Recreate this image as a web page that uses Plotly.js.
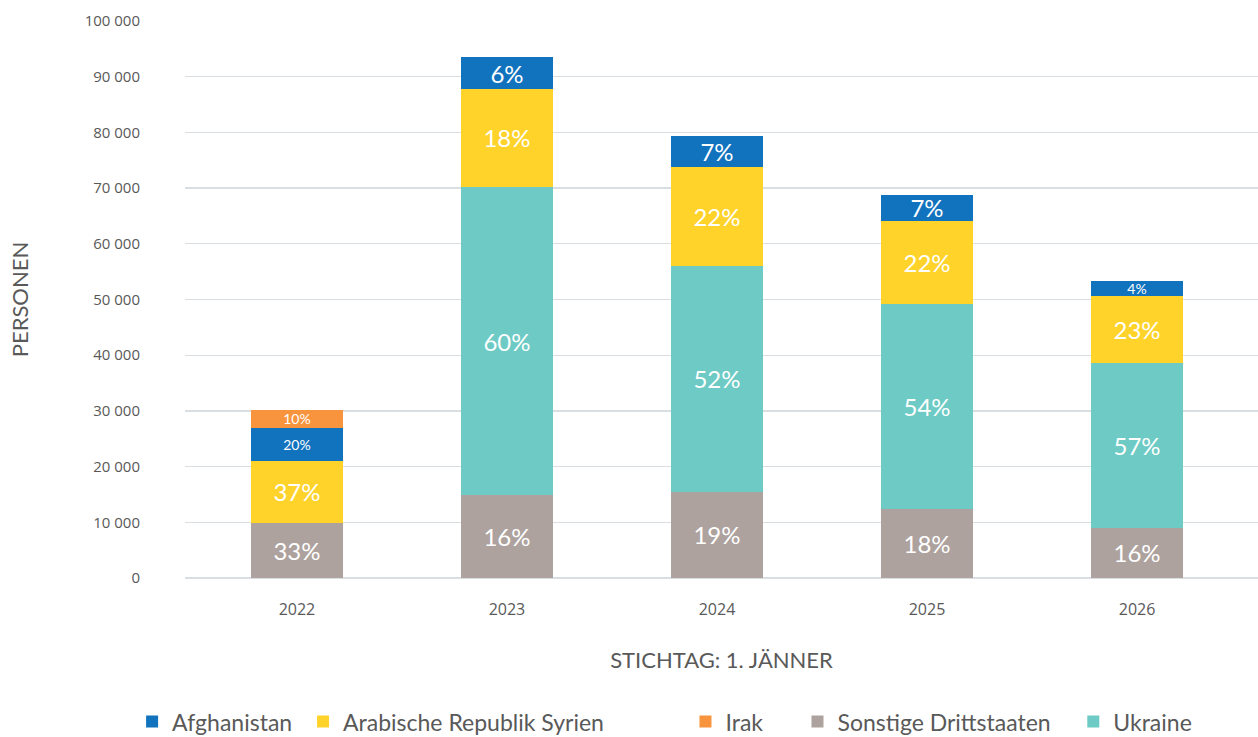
<!DOCTYPE html>
<html>
<head>
<meta charset="utf-8">
<script src="https://cdn.plot.ly/plotly-3.0.1.min.js"></script>
<style>html,body{margin:0;padding:0;background:#fff;}#chart{width:1258px;height:737px;}</style>
</head>
<body>
<div id="chart"></div>
<script>
var years = ['2022', '2023', '2024', '2025', '2026'];

var sonstige    = [9900, 14900, 15500, 12400, 9000];
var ukraine     = [null, 55300, 40500, 36800, 29600];
var syrien      = [11100, 17600, 17800, 14900, 12000];
var afghanistan = [6000, 5700, 5600, 4700, 2700];
var irak        = [3100, null, null, null, null];

var sonstigeLbl    = ['33%', '16%', '19%', '18%', '16%'];
var ukraineLbl     = ['', '60%', '52%', '54%', '57%'];
var syrienLbl      = ['37%', '18%', '22%', '22%', '23%'];
var afghanistanLbl = ['20%', '6%', '7%', '7%', '4%'];
var irakLbl        = ['10%', '', '', '', ''];

var big = 24, small = 14;
function mk(name, y, txt, color, rank, sizes) {
  return {
    type: 'bar', name: name, x: years, y: y, text: txt,
    textposition: 'inside', insidetextanchor: 'middle', constraintext: 'none',
    textfont: {color: '#ffffff', size: sizes, family: 'Lato, sans-serif'},
    marker: {color: color}, legendrank: rank, hoverinfo: 'skip'
  };
}
function pad(n) { return '\u00a0'.repeat(n); }
var data = [
  mk('Sonstige Drittstaaten' + pad(3), sonstige, sonstigeLbl, '#ADA29E', 4, [big, big, big, big, big]),
  mk('Ukraine', ukraine, ukraineLbl, '#6DCAC4', 5, [big, big, big, big, big]),
  mk('Arabische Republik Syrien' + pad(13), syrien, syrienLbl, '#FFD32A', 2, [big, big, big, big, big]),
  mk('Afghanistan' + pad(1), afghanistan, afghanistanLbl, '#1172BE', 1, [small, big, big, big, small]),
  mk('Irak' + pad(5), irak, irakLbl, '#F7943D', 3, [small, small, small, small, small])
];

var layout = {
  width: 1258, height: 737,
  margin: {l: 185, r: 0, t: 21, b: 159},
  paper_bgcolor: '#ffffff', plot_bgcolor: '#ffffff',
  barmode: 'stack', bargap: 0.562,
  font: {family: 'Lato, sans-serif', color: '#595959'},
  xaxis: {
    type: 'category',
    range: [-0.533, 4.576], showgrid: false, zeroline: false, showline: false,
    tickfont: {family: 'Open Sans, sans-serif', size: 16, color: '#595959'},
    ticks: '', ticklabelstandoff: 20,
    title: {text: 'STICHTAG: 1. JÄNNER', font: {family: 'Lato, sans-serif', size: 22, color: '#595959'}, standoff: 33}
  },
  yaxis: {
    range: [0, 100000], dtick: 10000, tickformat: ',d',
    showgrid: true, gridcolor: '#D9DEE3', gridwidth: 1.3, zeroline: true, zerolinecolor: '#D9DEE3', zerolinewidth: 1.3,
    tickfont: {family: 'Open Sans, sans-serif', size: 15, color: '#595959'},
    ticks: '', ticklabelstandoff: 44,
    title: {text: 'PERSONEN', font: {family: 'Lato, sans-serif', size: 22, color: '#595959'}, standoff: 49}
  },
  separators: ', ',
  showlegend: true,
  legend: {
    orientation: 'h', xref: 'container', yref: 'container', x: 0.105, xanchor: 'left', y: 0.05, yanchor: 'top',
    font: {family: 'Lato, sans-serif', size: 23, color: '#595959'},
    traceorder: 'normal', itemwidth: 30
  }
};

Plotly.newPlot('chart', data, layout, {displayModeBar: false, staticPlot: true});
</script>
</body>
</html>
